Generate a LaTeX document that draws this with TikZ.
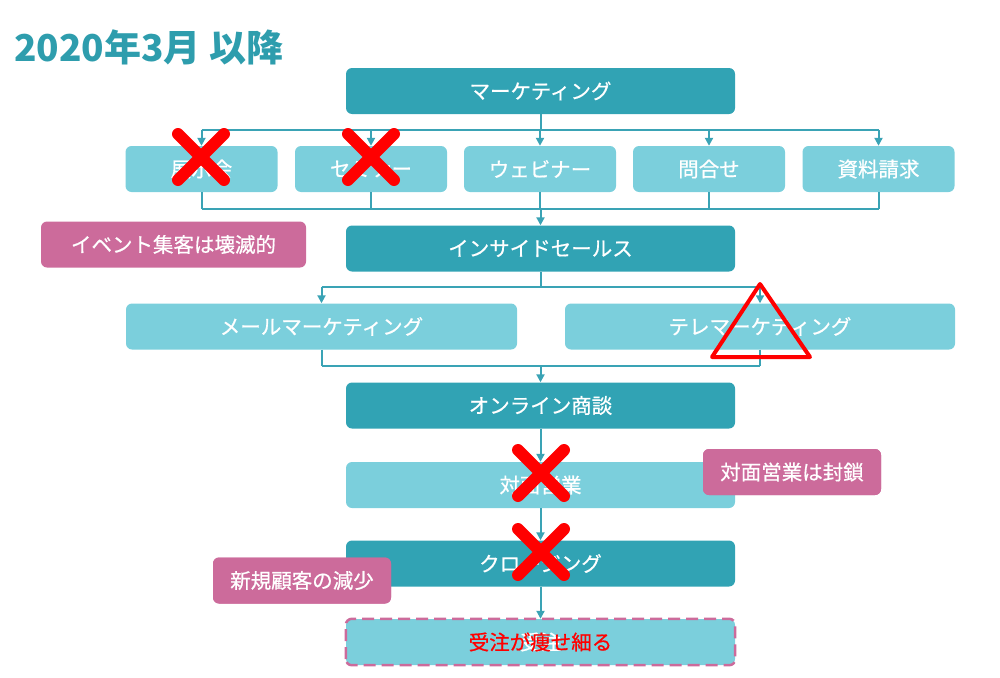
\documentclass[tikz,border=0pt]{standalone}
\usepackage{fontspec}
\setmainfont{Noto Sans CJK JP}
\newfontfamily\medfont{Noto Sans CJK JP}[FakeBold=0.7]
\usetikzlibrary{arrows.meta}
\definecolor{dteal}{HTML}{31A3B4}
\definecolor{lteal}{HTML}{7BCFDC}
\definecolor{pinkc}{HTML}{CC6B9B}
\definecolor{titlec}{HTML}{2E9DAD}
\definecolor{connc}{HTML}{3AA3B5}
\definecolor{redx}{HTML}{FF0000}
\begin{document}
\begin{tikzpicture}[x=1pt,y=-1pt,
  base/.style={rounded corners=6pt, inner sep=0pt, text=white, font=\medfont\fontsize{20.5}{24}\selectfont, minimum height=46pt},
  dbox/.style={base, fill=dteal, minimum width=389pt},
  lbox/.style={base, fill=lteal},
  pbox/.style={base, fill=pinkc},
  conn/.style={draw=connc, line width=2pt},
  arr/.style={conn, -{Triangle[width=8pt,length=8pt]}},
  xmark/.style={draw=redx, line width=12pt, line cap=round},
]
\useasboundingbox (0,0) rectangle (1000,677);

\node[anchor=west, inner sep=0pt, text=titlec, font=\fontsize{37}{40}\bfseries] (title) at (14,47) {2020年3月 以降};

% main column
\node[dbox] (mk) at (540.5,91) {マーケティング};
\node[lbox, minimum width=152pt] (ten) at (201.5,169) {展示会};
\node[lbox, minimum width=152pt] (sem) at (371,169) {セミナー};
\node[lbox, minimum width=152pt] (web) at (540,169) {ウェビナー};
\node[lbox, minimum width=152pt] (toi) at (709,169) {問合せ};
\node[lbox, minimum width=152pt] (shi) at (878.5,169) {資料請求};
\node[dbox] (is) at (540.5,248.5) {インサイドセールス};
\node[pbox, minimum width=265pt] (ev) at (173.5,244.5) {イベント集客は壊滅的};
\node[lbox, minimum width=391pt] (mail) at (321.5,326.5) {メールマーケティング};
\node[lbox, minimum width=390pt] (tele) at (760,326.5) {テレマーケティング};
\node[dbox] (on) at (540.5,405.5) {オンライン商談};
\node[lbox, minimum width=389pt] (tm) at (540.5,485) {対面営業};
\node[pbox, minimum width=178pt] (fu) at (792,472) {対面営業は封鎖};
\node[dbox] (cl) at (540.5,563.5) {クロージング};
\node[pbox, minimum width=178pt] (sh) at (302,580.5) {新規顧客の減少};
\node[lbox, minimum width=389pt] (ju) at (540.5,642) {受注};

% connectors row 2
\coordinate (b1) at (540.5,130);
\coordinate (b2) at (540.5,209);
\draw[conn] (mk.south) -- (b1);
\draw[conn] (b1 -| ten.north) -- (b1 -| shi.north);
\foreach \n in {ten,sem,web,toi,shi} \draw[arr] (b1 -| \n.north) -- (\n.north);
\foreach \n in {ten,sem,web,toi,shi} \draw[conn] (\n.south) -- (b2 -| \n.south);
\draw[conn] (b2 -| ten.south) -- (b2 -| shi.south);
\draw[arr] (b2) -- (is.north);

% connectors row 4
\coordinate (b3) at (540.5,287);
\coordinate (b4) at (540.5,366);
\draw[conn] (is.south) -- (b3);
\draw[conn] (b3 -| mail.north) -- (b3 -| tele.north);
\foreach \n in {mail,tele} \draw[arr] (b3 -| \n.north) -- (\n.north);
\foreach \n in {mail,tele} \draw[conn] (\n.south) -- (b4 -| \n.south);
\draw[conn] (b4 -| mail.south) -- (b4 -| tele.south);
\draw[arr] (b4) -- (on.north);

\draw[arr] (on.south) -- (tm.north);
\draw[arr] (tm.south) -- (cl.north);
\draw[arr] (cl.south) -- (ju.north);

% redraw pink boxes on top
\node[pbox, minimum width=178pt] at (fu) {対面営業は封鎖};
\node[pbox, minimum width=178pt] at (sh) {新規顧客の減少};

% dashed border of 受注
\draw[draw=pinkc, line width=2.5pt, dash pattern=on 12pt off 6pt, rounded corners=6pt]
  (ju.south west) rectangle (ju.north east);
\node[text=redx, font=\medfont\fontsize{20.5}{24}\selectfont, inner sep=0pt] (jt) at (ju.center) {受注が痩せ細る};

% marks
\foreach \c in {(201,157),(371,157),(541,473),(541,552)}
  \draw[xmark] \c ++(-23,-23) -- ++(46,46) \c ++(23,-23) -- ++(-46,46);
\draw[draw=redx, line width=4pt, line join=round] (760,284) -- (712,357) -- (810,357) -- cycle;
\end{tikzpicture}
\end{document}
